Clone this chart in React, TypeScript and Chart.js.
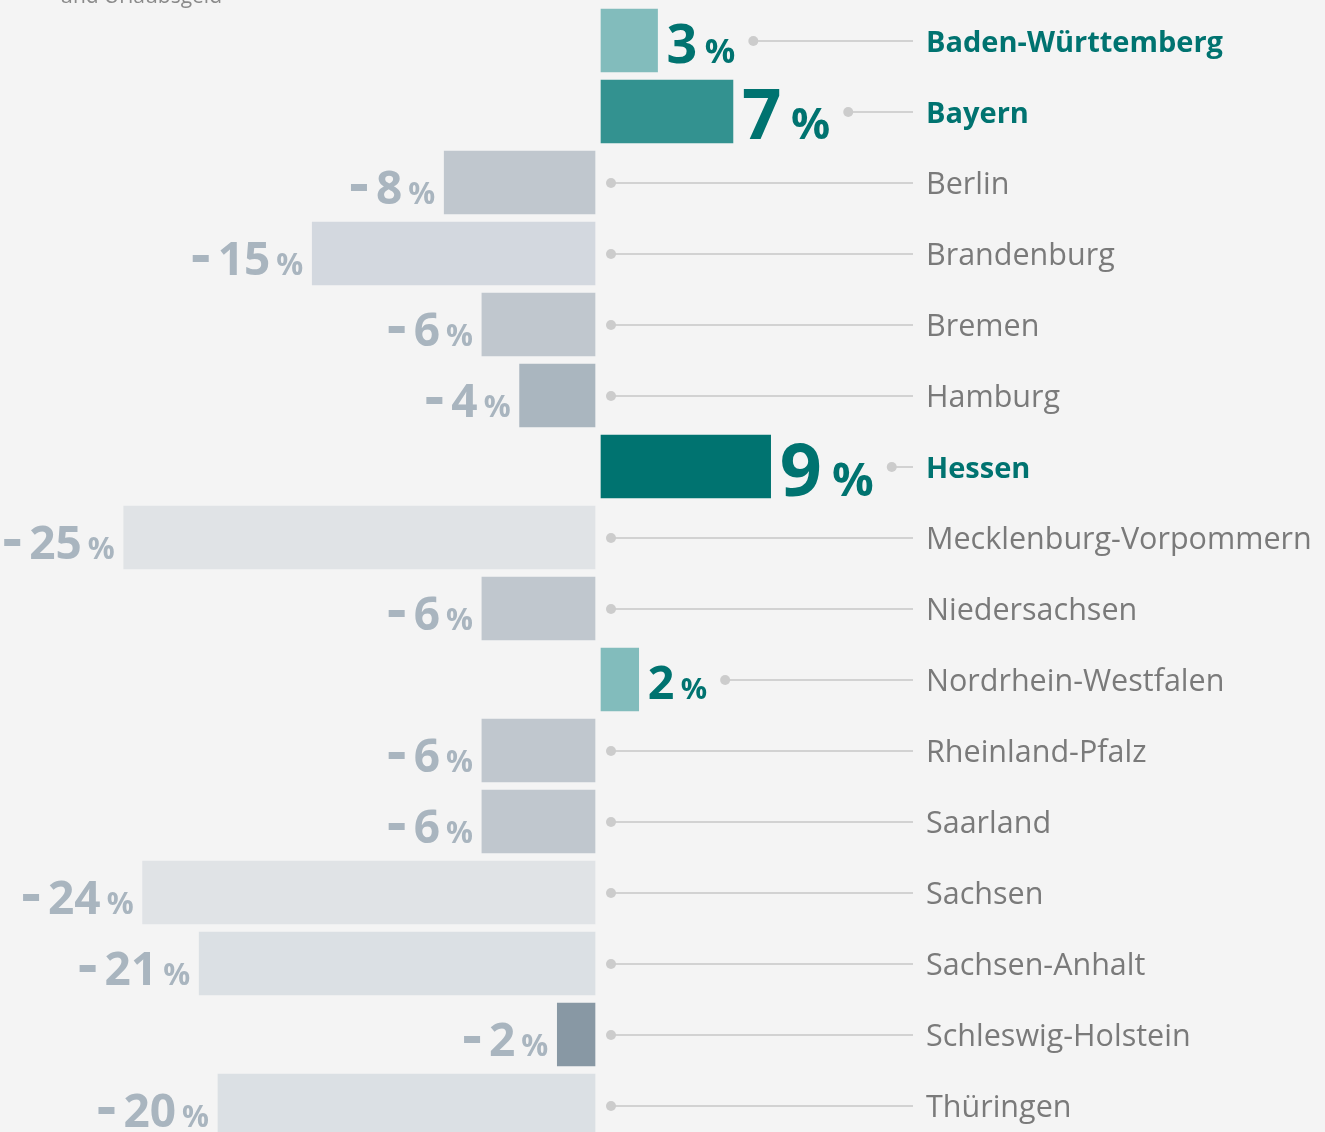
import { useEffect, useRef } from "react";
import { Chart, registerables } from "chart.js";

Chart.register(...registerables);

const subtitle = "und Urlaubsgeld";
const states = [
  "Baden-Württemberg",
  "Bayern",
  "Berlin",
  "Brandenburg",
  "Bremen",
  "Hamburg",
  "Hessen",
  "Mecklenburg-Vorpommern",
  "Niedersachsen",
  "Nordrhein-Westfalen",
  "Rheinland-Pfalz",
  "Saarland",
  "Sachsen",
  "Sachsen-Anhalt",
  "Schleswig-Holstein",
  "Thüringen",
];
const values = [3, 7, -8, -15, -6, -4, 9, -25, -6, 2, -6, -6, -24, -21, -2, -20];

const BG = "#f4f4f4";
const TEAL = "#007370";
const NEG_TEXT = "#a9b5bf";
const FONT = "'Open Sans', 'Noto Sans', sans-serif";

function barColor(v: number): string {
  if (v >= 9) return "#007370";
  if (v >= 7) return "#339290";
  if (v > 0) return "#82bcbc";
  const a = -v;
  if (a <= 2) return "#8898a4";
  if (a <= 4) return "#aab6bf";
  if (a <= 8) return "#c0c7ce";
  if (a <= 15) return "#d3d8df";
  if (a <= 21) return "#dbe0e4";
  return "#e0e3e6";
}

const SHIFT = 3;

const shiftPlugin = {
  id: "shiftBars",
  beforeDatasetDraw(chart: any, args: any) {
    chart.ctx.save();
    chart.ctx.translate(args.index === 0 ? SHIFT : -SHIFT, 0);
  },
  afterDatasetDraw(chart: any) {
    chart.ctx.restore();
  },
};

const labelPlugin = {
  id: "labels",
  afterDatasetsDraw(chart: any) {
    const ctx = chart.ctx;
    const xScale = chart.scales.x;
    const yScale = chart.scales.y;
    const zero = xScale.getPixelForValue(0);
    const lineEnd = 913;
    const nameX = 926;

    ctx.save();
    // subtitle (cut off at the top)
    ctx.font = `400 21px ${FONT}`;
    ctx.fillStyle = "#8a8a8a";
    ctx.textAlign = "left";
    ctx.textBaseline = "alphabetic";
    ctx.fillText(subtitle, 60, 3);

    values.forEach((v, i) => {
      const y = yScale.getPixelForValue(i);
      const end = xScale.getPixelForValue(v);
      const pos = v > 0;
      const highlight = v >= 3;
      const numStr = String(Math.abs(v));
      let dotX: number;
      ctx.textBaseline = "alphabetic";
      if (pos) {
        const numSize = 34 + 18 * Math.log(v);
        const pctSize = numSize * 0.63;
        const baseY = y + numSize * 0.357 + 3;
        let x = end + SHIFT + 9;
        ctx.fillStyle = TEAL;
        ctx.textAlign = "left";
        ctx.font = `700 ${numSize}px ${FONT}`;
        ctx.fillText(numStr, x, baseY);
        x += ctx.measureText(numStr).width + numSize * 0.14;
        ctx.font = `700 ${pctSize}px ${FONT}`;
        ctx.fillText("%", x, baseY);
        x += ctx.measureText("%").width;
        dotX = x + 18;
      } else {
        const numSize = 46;
        const pctSize = numSize * 0.65;
        const baseY = y + numSize * 0.357 + 5;
        let x = end - SHIFT - 9;
        ctx.fillStyle = NEG_TEXT;
        ctx.textAlign = "right";
        ctx.font = `700 ${pctSize}px ${FONT}`;
        ctx.fillText("%", x, baseY);
        x -= ctx.measureText("%").width + 6;
        ctx.font = `700 ${numSize}px ${FONT}`;
        ctx.fillText(numStr, x, baseY);
        x -= ctx.measureText(numStr).width + 9;
        const capMid = baseY - numSize * 0.357;
        ctx.fillRect(x - 16, capMid - 3.5, 16, 7);
        dotX = zero + 13;
      }
      // leader line
      ctx.strokeStyle = "#d2d2d2";
      ctx.lineWidth = 2;
      ctx.beginPath();
      ctx.moveTo(dotX, y + 0.5);
      ctx.lineTo(lineEnd, y + 0.5);
      ctx.stroke();
      ctx.fillStyle = "#cccccc";
      ctx.beginPath();
      ctx.arc(dotX, y + 0.5, 5, 0, Math.PI * 2);
      ctx.fill();
      // state name
      ctx.textAlign = "left";
      ctx.font = highlight ? `700 29px ${FONT}` : `400 30.5px ${FONT}`;
      ctx.fillStyle = highlight ? TEAL : "#7a7a7a";
      ctx.fillText(states[i], nameX, y + 11);
    });
    ctx.restore();
  },
};

export default function App() {
  const ref = useRef<HTMLCanvasElement | null>(null);

  useEffect(() => {
    const canvas = ref.current;
    if (!canvas) return;
    const chart = new Chart(canvas, {
      type: "bar",
      data: {
        labels: states,
        datasets: [
          {
            data: values.map((v) => (v > 0 ? v : null)),
            backgroundColor: values.map(barColor),
            barThickness: 63,
          },
          {
            data: values.map((v) => (v < 0 ? v : null)),
            backgroundColor: values.map(barColor),
            barThickness: 63,
          },
        ],
      },
      options: {
        indexAxis: "y",
        responsive: false,
        animation: false,
        devicePixelRatio: 1,
        layout: { padding: { left: 32.5, right: 161.5, top: 5, bottom: 9 } },
        datasets: { bar: { grouped: false, borderWidth: 0 } },
        plugins: {
          legend: { display: false },
          tooltip: { enabled: false },
          title: { display: false },
        },
        scales: {
          x: { display: false, min: -30, max: 30 },
          y: { display: false },
        },
      } as any,
      plugins: [shiftPlugin, labelPlugin],
    });
    return () => chart.destroy();
  }, []);

  return (
    <div
      style={{
        position: "absolute",
        left: 0,
        top: 0,
        width: 1325,
        height: 1132,
        overflow: "hidden",
        background: BG,
      }}
    >
      <canvas ref={ref} width={1325} height={1150} style={{ display: "block", width: 1325, height: 1150 }} />
    </div>
  );
}
